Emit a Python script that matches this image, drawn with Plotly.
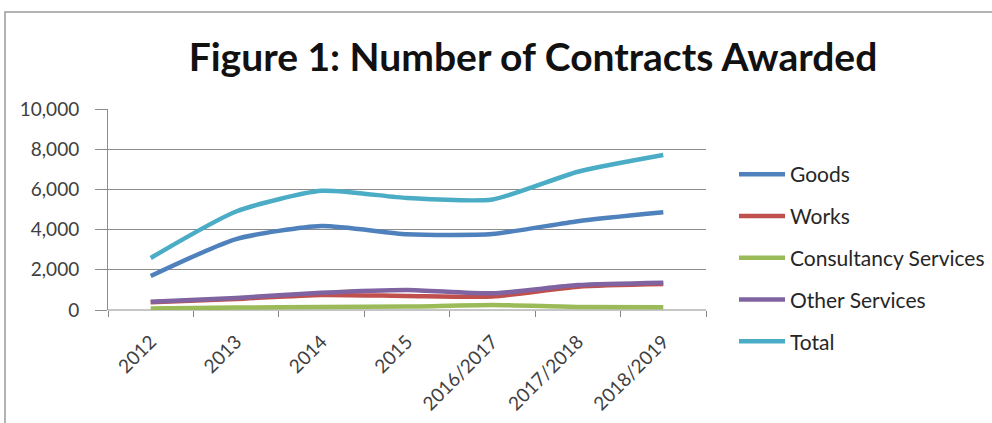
import plotly.graph_objects as go

years = ["2012", "2013", "2014", "2015", "2016/2017", "2017/2018", "2018/2019"]
goods = [1690, 3530, 4180, 3770, 3780, 4420, 4860]
works = [380, 550, 750, 700, 670, 1160, 1290]
consultancy = [80, 120, 150, 170, 250, 150, 140]
other_services = [410, 600, 860, 1000, 830, 1240, 1360]
total = [2590, 4900, 5930, 5570, 5500, 6880, 7710]

series_names = ["Goods", "Works", "Consultancy Services", "Other Services", "Total"]
series_values = [goods, works, consultancy, other_services, total]
colors = ["#4F81BD", "#C0504D", "#9BBB59", "#8064A2", "#4BACC6"]
y_ticks = [0, 2000, 4000, 6000, 8000, 10000]

FONT = "Lato, 'Open Sans', sans-serif"

fig = go.Figure()
for i, (name, vals, col) in enumerate(zip(series_names, series_values, colors)):
    fig.add_trace(go.Scatter(
        x=years, y=vals, name=name, mode="lines",
        line=dict(color=col, width=4.5, shape="spline", smoothing=0.6),
        legendgroup=f"g{i}",
    ))

L, R, T, B = 108, 286, 109, 113
W, H = 992, 423
pw, ph = W - L - R, H - T - B

fig.update_layout(
    width=W, height=H,
    margin=dict(l=L, r=R, t=T, b=B, pad=0, autoexpand=False),
    paper_bgcolor="white", plot_bgcolor="white",
    font=dict(family=FONT, color="#404040", size=19),
    title=dict(text="<b>Figure 1: Number of Contracts Awarded</b>",
               x=533 / W, xref="container", xanchor="center",
               y=1 - 57 / H, yref="container", yanchor="middle",
               font=dict(family=FONT, size=39, color="#111111")),
    showlegend=True,
    legend=dict(x=(734 - L) / pw, xanchor="left", y=(310 - 154) / ph, yanchor="top",
                font=dict(family=FONT, size=21, color="#262626"),
                tracegroupgap=11.5, bgcolor="rgba(0,0,0,0)", itemwidth=46,
                maxheight=400),
    xaxis=dict(type="category", showline=False, showgrid=False,
               ticks="outside", ticklen=6, tickcolor="#868686", tickson="boundaries",
               tickangle=-45, tickfont=dict(size=19, color="#404040"),
               ticklabelstandoff=16, automargin=False,
               range=[-0.5, 6.5], fixedrange=True),
    yaxis=dict(range=[0, 10000], tickvals=y_ticks, tickformat=",",
               showgrid=True, gridcolor="#8c8c8c", gridwidth=1,
               showline=True, linecolor="#8c8c8c", linewidth=1,
               ticks="outside", ticklen=12, tickcolor="#8c8c8c",
               ticklabelstandoff=12, automargin=False,
               tickfont=dict(size=19, color="#404040"), zeroline=False,
               fixedrange=True),
)

# x axis baseline (drawn as the zero gridline)
fig.add_shape(type="line", xref="paper", yref="paper", x0=0, x1=1, y0=0, y1=0,
              line=dict(color="#8c8c8c", width=1), layer="below")

# chart area border (partially visible in the reference crop)
fig.add_shape(type="rect", xref="paper", yref="paper",
              x0=(5 - L) / pw, x1=2.0, y0=-1.5, y1=(310 - 12) / ph,
              line=dict(color="#9a9a9a", width=1.5), fillcolor="rgba(0,0,0,0)", layer="below")

fig.write_html("out.html")
